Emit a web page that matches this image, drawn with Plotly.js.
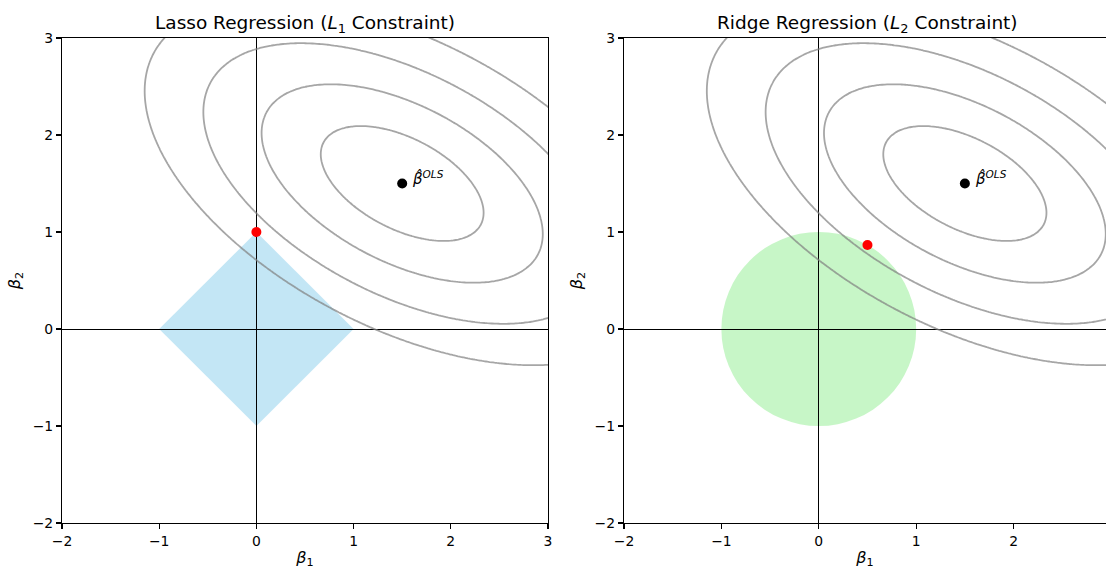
<!DOCTYPE html>
<html>
<head>
<meta charset="utf-8">
<script src="https://cdn.plot.ly/plotly-3.0.1.min.js"></script>
<style>html,body{margin:0;padding:0;background:#fff;}#chart{width:1106px;height:569px;}</style>
</head>
<body>
<div id="chart"></div>
<script>
// ---- data ----
const olsCenter = [1.5, 1.5];              // beta_hat OLS
const quadCoef = [1.0, 0.72, 2.0];         // loss = a*dx^2 + 2*b*dx*dy + d*dy^2
const contourLevels = [0.52, 1.55, 3.1, 5.2];
const lassoVertX = [1, 0, -1, 0];
const lassoVertY = [0, 1, 0, -1];
const ridgeRadius = [1];
const lassoSolution = [0, 1];
const ridgeSolution = [0.5, 0.866];
const axisTicks1 = [-2, -1, 0, 1, 2, 3];
const axisTicks2 = [-2, -1, 0, 1, 2];
const titles = ['Lasso Regression (<i>L</i><sub>1</sub> Constraint)', 'Ridge Regression (<i>L</i><sub>2</sub> Constraint)'];

// ---- loss surface grid ----
const gx = [], gy = [];
for (let v = -2.5; v <= 4.5001; v += 0.025) gx.push(+v.toFixed(4));
for (let v = -2.5; v <= 4.0001; v += 0.025) gy.push(+v.toFixed(4));
const gz = gy.map(y => gx.map(x => {
  const dx = x - olsCenter[0], dy = y - olsCenter[1];
  return quadCoef[0]*dx*dx + 2*quadCoef[1]*dx*dy + quadCoef[2]*dy*dy;
}));

const font = 'DejaVu Sans, sans-serif';
const traces = [];
['x', 'x2'].forEach((xa, i) => {
  const ya = i === 0 ? 'y' : 'y2';
  contourLevels.forEach(L => {
    traces.push({
      type: 'contour', x: gx, y: gy, z: gz, xaxis: xa, yaxis: ya,
      contours: {start: L, end: L, size: 1, coloring: 'none'},
      line: {color: 'rgba(128,128,128,0.7)', width: 1.8, smoothing: 1},
      showscale: false, hoverinfo: 'skip', showlegend: false
    });
  });
  traces.push({
    type: 'scatter', mode: 'markers', x: [olsCenter[0]], y: [olsCenter[1]], xaxis: xa, yaxis: ya,
    marker: {color: 'black', size: 10}, showlegend: false
  });
  const sol = i === 0 ? lassoSolution : ridgeSolution;
  traces.push({
    type: 'scatter', mode: 'markers', x: [sol[0]], y: [sol[1]], xaxis: xa, yaxis: ya,
    marker: {color: 'red', size: 10}, showlegend: false
  });
});

const diamondPath = 'M ' + lassoVertX.map((x, k) => x + ',' + lassoVertY[k]).join(' L ') + ' Z';
const r = ridgeRadius[0];

function axisBase(extra) {
  return Object.assign({
    showgrid: false, zeroline: true, zerolinecolor: 'black', zerolinewidth: 1,
    showline: true, linecolor: 'black', linewidth: 1.1,
    ticks: 'outside', ticklen: 5, tickwidth: 1.1, tickcolor: 'black',
    tickfont: {family: font, size: 13.9, color: 'black'},
    fixedrange: true
  }, extra);
}
const axTitleFont = {family: font, size: 16, color: 'black'};

const layout = {
  width: 1106, height: 569,
  margin: {l: 62, r: 0, t: 38, b: 46},
  paper_bgcolor: 'white', plot_bgcolor: 'white',
  font: {family: font, color: 'black'},
  showlegend: false,
  xaxis: axisBase({domain: [0, 0.4655], range: [-2, 3], tickvals: axisTicks1, mirror: true, anchor: 'y',
    title: {text: '<i>β</i><sub>1</sub>', font: axTitleFont, standoff: 4}}),
  yaxis: axisBase({domain: [0, 1], range: [-2, 3], tickvals: axisTicks1, mirror: true, anchor: 'x',
    title: {text: '<i>β</i><sub>2</sub>', font: axTitleFont, standoff: 8}}),
  xaxis2: axisBase({domain: [0.5383, 1], range: [-2, 2.949], tickvals: axisTicks2, mirror: true, anchor: 'y2',
    title: {text: '<i>β</i><sub>1</sub>', font: axTitleFont, standoff: 4}}),
  yaxis2: axisBase({domain: [0, 1], range: [-2, 3], tickvals: axisTicks1, mirror: false, anchor: 'x2',
    title: {text: '<i>β</i><sub>2</sub>', font: axTitleFont, standoff: 8}}),
  shapes: [
    {type: 'path', xref: 'x', yref: 'y', path: diamondPath, layer: 'below',
     fillcolor: 'rgba(135,206,235,0.5)', line: {width: 0}},
    {type: 'circle', xref: 'x2', yref: 'y2', x0: -r, x1: r, y0: -r, y1: r, layer: 'below',
     fillcolor: 'rgba(144,238,144,0.5)', line: {width: 0}}
  ],
  annotations: [
    {xref: 'paper', yref: 'paper', x: 0.2328, y: 1.029, xanchor: 'center', yanchor: 'middle',
     text: titles[0], showarrow: false, font: {family: font, size: 18.5, color: 'black'}},
    {xref: 'paper', yref: 'paper', x: 0.7717, y: 1.029, xanchor: 'center', yanchor: 'middle',
     text: titles[1], showarrow: false, font: {family: font, size: 18.5, color: 'black'}},
    {xref: 'x', yref: 'y', x: olsCenter[0], y: olsCenter[1], xanchor: 'left', yanchor: 'middle',
     xshift: 8, yshift: 6, text: '<i>β̂<sup>OLS</sup></i>', showarrow: false,
     font: {family: font, size: 15, color: 'black'}},
    {xref: 'x2', yref: 'y2', x: olsCenter[0], y: olsCenter[1], xanchor: 'left', yanchor: 'middle',
     xshift: 8, yshift: 6, text: '<i>β̂<sup>OLS</sup></i>', showarrow: false,
     font: {family: font, size: 15, color: 'black'}}
  ]
};

Plotly.newPlot('chart', traces, layout, {staticPlot: true, displayModeBar: false});
</script>
</body>
</html>
